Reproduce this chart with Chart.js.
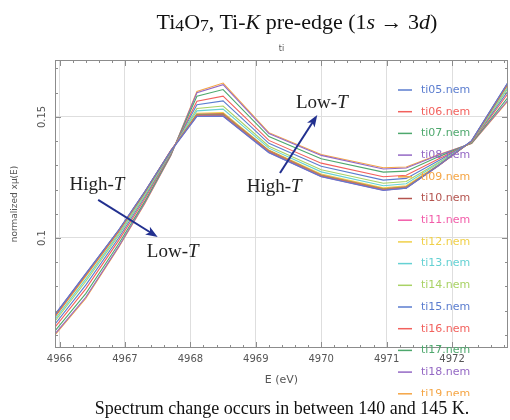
<!DOCTYPE html>
<html>
<head>
<meta charset="utf-8">
<script src="https://cdn.jsdelivr.net/npm/chart.js@4.4.1/dist/chart.umd.min.js"></script>
<style>
  body { margin: 0; background: #fff; }
  #wrap { position: relative; width: 510px; height: 420px; overflow: hidden; }
  #graph1 { position: absolute; left: 0; top: 0; }
  .cap { position: absolute; font-family: "Liberation Serif", "Times New Roman", serif; color: #111; white-space: nowrap; transform: translateX(-50%); line-height: 1.2; }
  #title { left: 297px; top: 9px; font-size: 22px; }
  #note { left: 282px; top: 398px; font-size: 18px; }
  sub { font-size: 80%; vertical-align: -0.12em; line-height: 0; }
</style>
</head>
<body>
<div id="wrap">
  <canvas id="graph1" width="510" height="420"></canvas>
  <div id="title" class="cap">Ti<sub>4</sub>O<sub>7</sub>, Ti-<i>K</i> pre-edge (1<i>s</i> → 3<i>d</i>)</div>
  <div id="note" class="cap">Spectrum change occurs in between 140 and 145 K.</div>
</div>
<script>
// energy grid (eV)
const energy = [4965.9, 4966.4, 4966.9, 4967.3, 4967.7, 4968.1, 4968.5, 4969.2, 4970.0, 4970.95, 4971.3, 4971.8, 4972.3, 4972.9];

// normalized x mu(E), one array per scan
const ti05 = [0.0672, 0.0852, 0.1032, 0.1191, 0.1360, 0.1503, 0.1504, 0.1353, 0.1254, 0.1197, 0.1206, 0.1301, 0.1402, 0.1662];
const ti06 = [0.0668, 0.0848, 0.1028, 0.1189, 0.1361, 0.1507, 0.1508, 0.1357, 0.1257, 0.1200, 0.1208, 0.1300, 0.1400, 0.1658];
const ti07 = [0.0670, 0.0849, 0.1029, 0.1188, 0.1359, 0.1509, 0.1510, 0.1358, 0.1258, 0.1201, 0.1209, 0.1301, 0.1399, 0.1657];
const ti08 = [0.0674, 0.0853, 0.1031, 0.1190, 0.1358, 0.1502, 0.1502, 0.1352, 0.1253, 0.1196, 0.1205, 0.1299, 0.1401, 0.1661];
const ti09 = [0.0667, 0.0846, 0.1027, 0.1188, 0.1360, 0.1510, 0.1512, 0.1360, 0.1259, 0.1202, 0.1210, 0.1302, 0.1400, 0.1656];
const ti10 = [0.0666, 0.0845, 0.1026, 0.1187, 0.1359, 0.1511, 0.1514, 0.1361, 0.1260, 0.1203, 0.1211, 0.1302, 0.1400, 0.1656];
const ti11 = [0.0671, 0.0851, 0.1030, 0.1190, 0.1361, 0.1506, 0.1506, 0.1356, 0.1256, 0.1199, 0.1207, 0.1300, 0.1401, 0.1659];
const ti12 = [0.0662, 0.0840, 0.1023, 0.1185, 0.1358, 0.1515, 0.1518, 0.1363, 0.1264, 0.1207, 0.1216, 0.1304, 0.1399, 0.1652];
const ti13 = [0.0654, 0.0830, 0.1016, 0.1180, 0.1356, 0.1525, 0.1532, 0.1371, 0.1273, 0.1216, 0.1224, 0.1309, 0.1398, 0.1644];
const ti14 = [0.0646, 0.0820, 0.1009, 0.1175, 0.1354, 0.1535, 0.1545, 0.1379, 0.1282, 0.1226, 0.1233, 0.1313, 0.1397, 0.1636];
const ti15 = [0.0634, 0.0805, 0.0999, 0.1168, 0.1351, 0.1550, 0.1566, 0.1391, 0.1296, 0.1239, 0.1246, 0.1320, 0.1396, 0.1624];
const ti16 = [0.0622, 0.0790, 0.0988, 0.1160, 0.1348, 0.1565, 0.1586, 0.1403, 0.1309, 0.1253, 0.1259, 0.1327, 0.1394, 0.1612];
const ti17 = [0.0606, 0.0770, 0.0974, 0.1150, 0.1344, 0.1585, 0.1613, 0.1419, 0.1327, 0.1272, 0.1276, 0.1336, 0.1392, 0.1596];
const ti18 = [0.0594, 0.0755, 0.0963, 0.1143, 0.1341, 0.1600, 0.1633, 0.1431, 0.1341, 0.1285, 0.1289, 0.1343, 0.1391, 0.1584];
const ti19 = [0.0590, 0.0750, 0.0960, 0.1140, 0.1340, 0.1605, 0.1640, 0.1435, 0.1345, 0.1290, 0.1293, 0.1345, 0.1390, 0.1580];

const scanNames = ['ti05.nem', 'ti06.nem', 'ti07.nem', 'ti08.nem', 'ti09.nem', 'ti10.nem', 'ti11.nem', 'ti12.nem',
                   'ti13.nem', 'ti14.nem', 'ti15.nem', 'ti16.nem', 'ti17.nem', 'ti18.nem', 'ti19.nem'];
const scans = [ti05, ti06, ti07, ti08, ti09, ti10, ti11, ti12, ti13, ti14, ti15, ti16, ti17, ti18, ti19];

// annotations in data units (E, mu)
const notes = [
    {text: 'High-', it: 'T', e: 4966.57, v: 0.1219},
    {text: 'Low-', it: 'T', e: 4967.73, v: 0.0942},
    {text: 'Low-', it: 'T', e: 4970.01, v: 0.1558},
    {text: 'High-', it: 'T', e: 4969.28, v: 0.1211},
];
const arrows = [
    {from: [4966.59, 0.1157], to: [4967.50, 0.1004]},
    {from: [4969.37, 0.1268], to: [4969.94, 0.1508]},
];

// styles (faded Athena palette)
const lineColors = ['#5b7dcf', '#f2615d', '#4ea86d', '#9468c4', '#f5a544', '#b4544f', '#f25ca9', '#f0d049',
                    '#65d1d3', '#a9d265', '#5b7dcf', '#f2615d', '#4ea86d', '#9468c4', '#f5a544'];
const tickFont = {family: 'DejaVu Sans', size: 10};

const decor = {
    id: 'decor',
    afterDraw(chart) {
        const {ctx, chartArea: a, scales: {x, y}} = chart;
        ctx.save();
        ctx.strokeStyle = '#8c8c8c';
        ctx.lineWidth = 1;
        ctx.strokeRect(a.left + 0.5, a.top + 0.5, a.right - a.left - 1, a.bottom - a.top - 1);

        // inward ticks, minor every 0.2 eV / 0.01
        ctx.beginPath();
        for (let k = Math.ceil(x.min * 5); k <= Math.floor(x.max * 5); k++) {
            const px = Math.round(x.getPixelForValue(k / 5)) + 0.5;
            const len = k % 5 === 0 ? 6 : 3;
            ctx.moveTo(px, a.bottom); ctx.lineTo(px, a.bottom - len);
            ctx.moveTo(px, a.top); ctx.lineTo(px, a.top + len);
        }
        for (let k = Math.ceil(y.min * 100); k <= Math.floor(y.max * 100); k++) {
            const py = Math.round(y.getPixelForValue(k / 100)) + 0.5;
            const len = k % 5 === 0 ? 6 : 3;
            ctx.moveTo(a.left, py); ctx.lineTo(a.left + len, py);
            ctx.moveTo(a.right, py); ctx.lineTo(a.right - len, py);
        }
        ctx.stroke();

        // small plot title
        ctx.fillStyle = '#555';
        ctx.font = '8px "DejaVu Sans"';
        ctx.textAlign = 'center';
        ctx.textBaseline = 'middle';
        ctx.fillText('ti', (a.left + a.right) / 2, a.top - 11);

        // arrows
        ctx.strokeStyle = '#22308f';
        ctx.fillStyle = '#22308f';
        ctx.lineWidth = 2;
        arrows.forEach(ar => {
            const x0 = x.getPixelForValue(ar.from[0]), y0 = y.getPixelForValue(ar.from[1]);
            const x1 = x.getPixelForValue(ar.to[0]), y1 = y.getPixelForValue(ar.to[1]);
            const ang = Math.atan2(y1 - y0, x1 - x0);
            ctx.beginPath();
            ctx.moveTo(x0, y0);
            ctx.lineTo(x1 - 8 * Math.cos(ang), y1 - 8 * Math.sin(ang));
            ctx.stroke();
            ctx.beginPath();
            ctx.moveTo(x1, y1);
            ctx.lineTo(x1 - 12 * Math.cos(ang) + 4.5 * Math.sin(ang), y1 - 12 * Math.sin(ang) - 4.5 * Math.cos(ang));
            ctx.lineTo(x1 - 9 * Math.cos(ang), y1 - 9 * Math.sin(ang));
            ctx.lineTo(x1 - 12 * Math.cos(ang) - 4.5 * Math.sin(ang), y1 - 12 * Math.sin(ang) + 4.5 * Math.cos(ang));
            ctx.closePath();
            ctx.fill();
        });

        // High-T / Low-T labels
        ctx.fillStyle = '#222';
        ctx.textAlign = 'left';
        notes.forEach(n => {
            ctx.font = '19px "Liberation Serif"';
            const w1 = ctx.measureText(n.text).width;
            ctx.font = 'italic 19px "Liberation Serif"';
            const w2 = ctx.measureText(n.it).width;
            const sx = x.getPixelForValue(n.e) - (w1 + w2) / 2;
            const sy = y.getPixelForValue(n.v);
            ctx.font = '19px "Liberation Serif"';
            ctx.fillText(n.text, sx, sy);
            ctx.font = 'italic 19px "Liberation Serif"';
            ctx.fillText(n.it, sx + w1, sy);
        });

        // legend (runs past the plot, clipped above the caption)
        ctx.beginPath();
        ctx.rect(a.right - 120, a.top, 120, 396 - a.top);
        ctx.clip();
        ctx.font = '11px "DejaVu Sans"';
        ctx.lineWidth = 1.5;
        chart.data.datasets.forEach((ds, i) => {
            const ly = a.top + 30 + i * 21.7;
            ctx.strokeStyle = ds.borderColor;
            ctx.beginPath();
            ctx.moveTo(a.right - 110, ly); ctx.lineTo(a.right - 96, ly);
            ctx.stroke();
            ctx.fillStyle = ds.borderColor;
            ctx.fillText(ds.label, a.right - 87, ly);
        });
        ctx.restore();
    }
};

const config = {
    type: 'line',
    data: {
        datasets: scans.map((vals, i) => ({
            label: scanNames[i],
            data: energy.map((e, j) => ({x: e, y: vals[j]})),
            borderColor: lineColors[i],
            backgroundColor: lineColors[i],
            borderWidth: 1.1,
            pointRadius: 0,
            tension: 0,
        }))
    },
    options: {
        responsive: false,
        animation: false,
        devicePixelRatio: 1,
        layout: {padding: {top: 60, right: 2, bottom: 30, left: 0}},
        plugins: {
            legend: {display: false},
            tooltip: {enabled: false},
        },
        scales: {
            x: {
                type: 'linear',
                min: 4965.93,
                max: 4972.856,
                afterFit: s => { s.height = 42; },
                grid: {color: '#dedede', drawTicks: false},
                border: {display: false},
                ticks: {
                    stepSize: 1, includeBounds: false, padding: 5, maxRotation: 0, autoSkip: false,
                    color: '#555', font: tickFont,
                    callback: v => String(v),
                },
                title: {display: true, text: 'E (eV)', color: '#555', font: {family: 'DejaVu Sans', size: 11}, padding: {top: 0, bottom: 3}},
            },
            y: {
                type: 'linear',
                min: 0.05455,
                max: 0.17351,
                afterFit: s => { s.width = 55; },
                grid: {color: '#dedede', drawTicks: false},
                border: {display: false},
                ticks: {
                    stepSize: 0.05, includeBounds: false, padding: 1,
                    minRotation: 90, maxRotation: 90, crossAlign: 'center',
                    color: '#555', font: tickFont,
                    callback: v => String(+v.toFixed(3)),
                },
                title: {display: true, text: 'normalized xμ(E)', color: '#555', font: {family: 'DejaVu Sans', size: 9}, padding: {top: 9, bottom: 0}},
            }
        }
    },
    plugins: [decor]
};

const myChart = new Chart(document.getElementById('graph1'), config);
</script>
</body>
</html>
